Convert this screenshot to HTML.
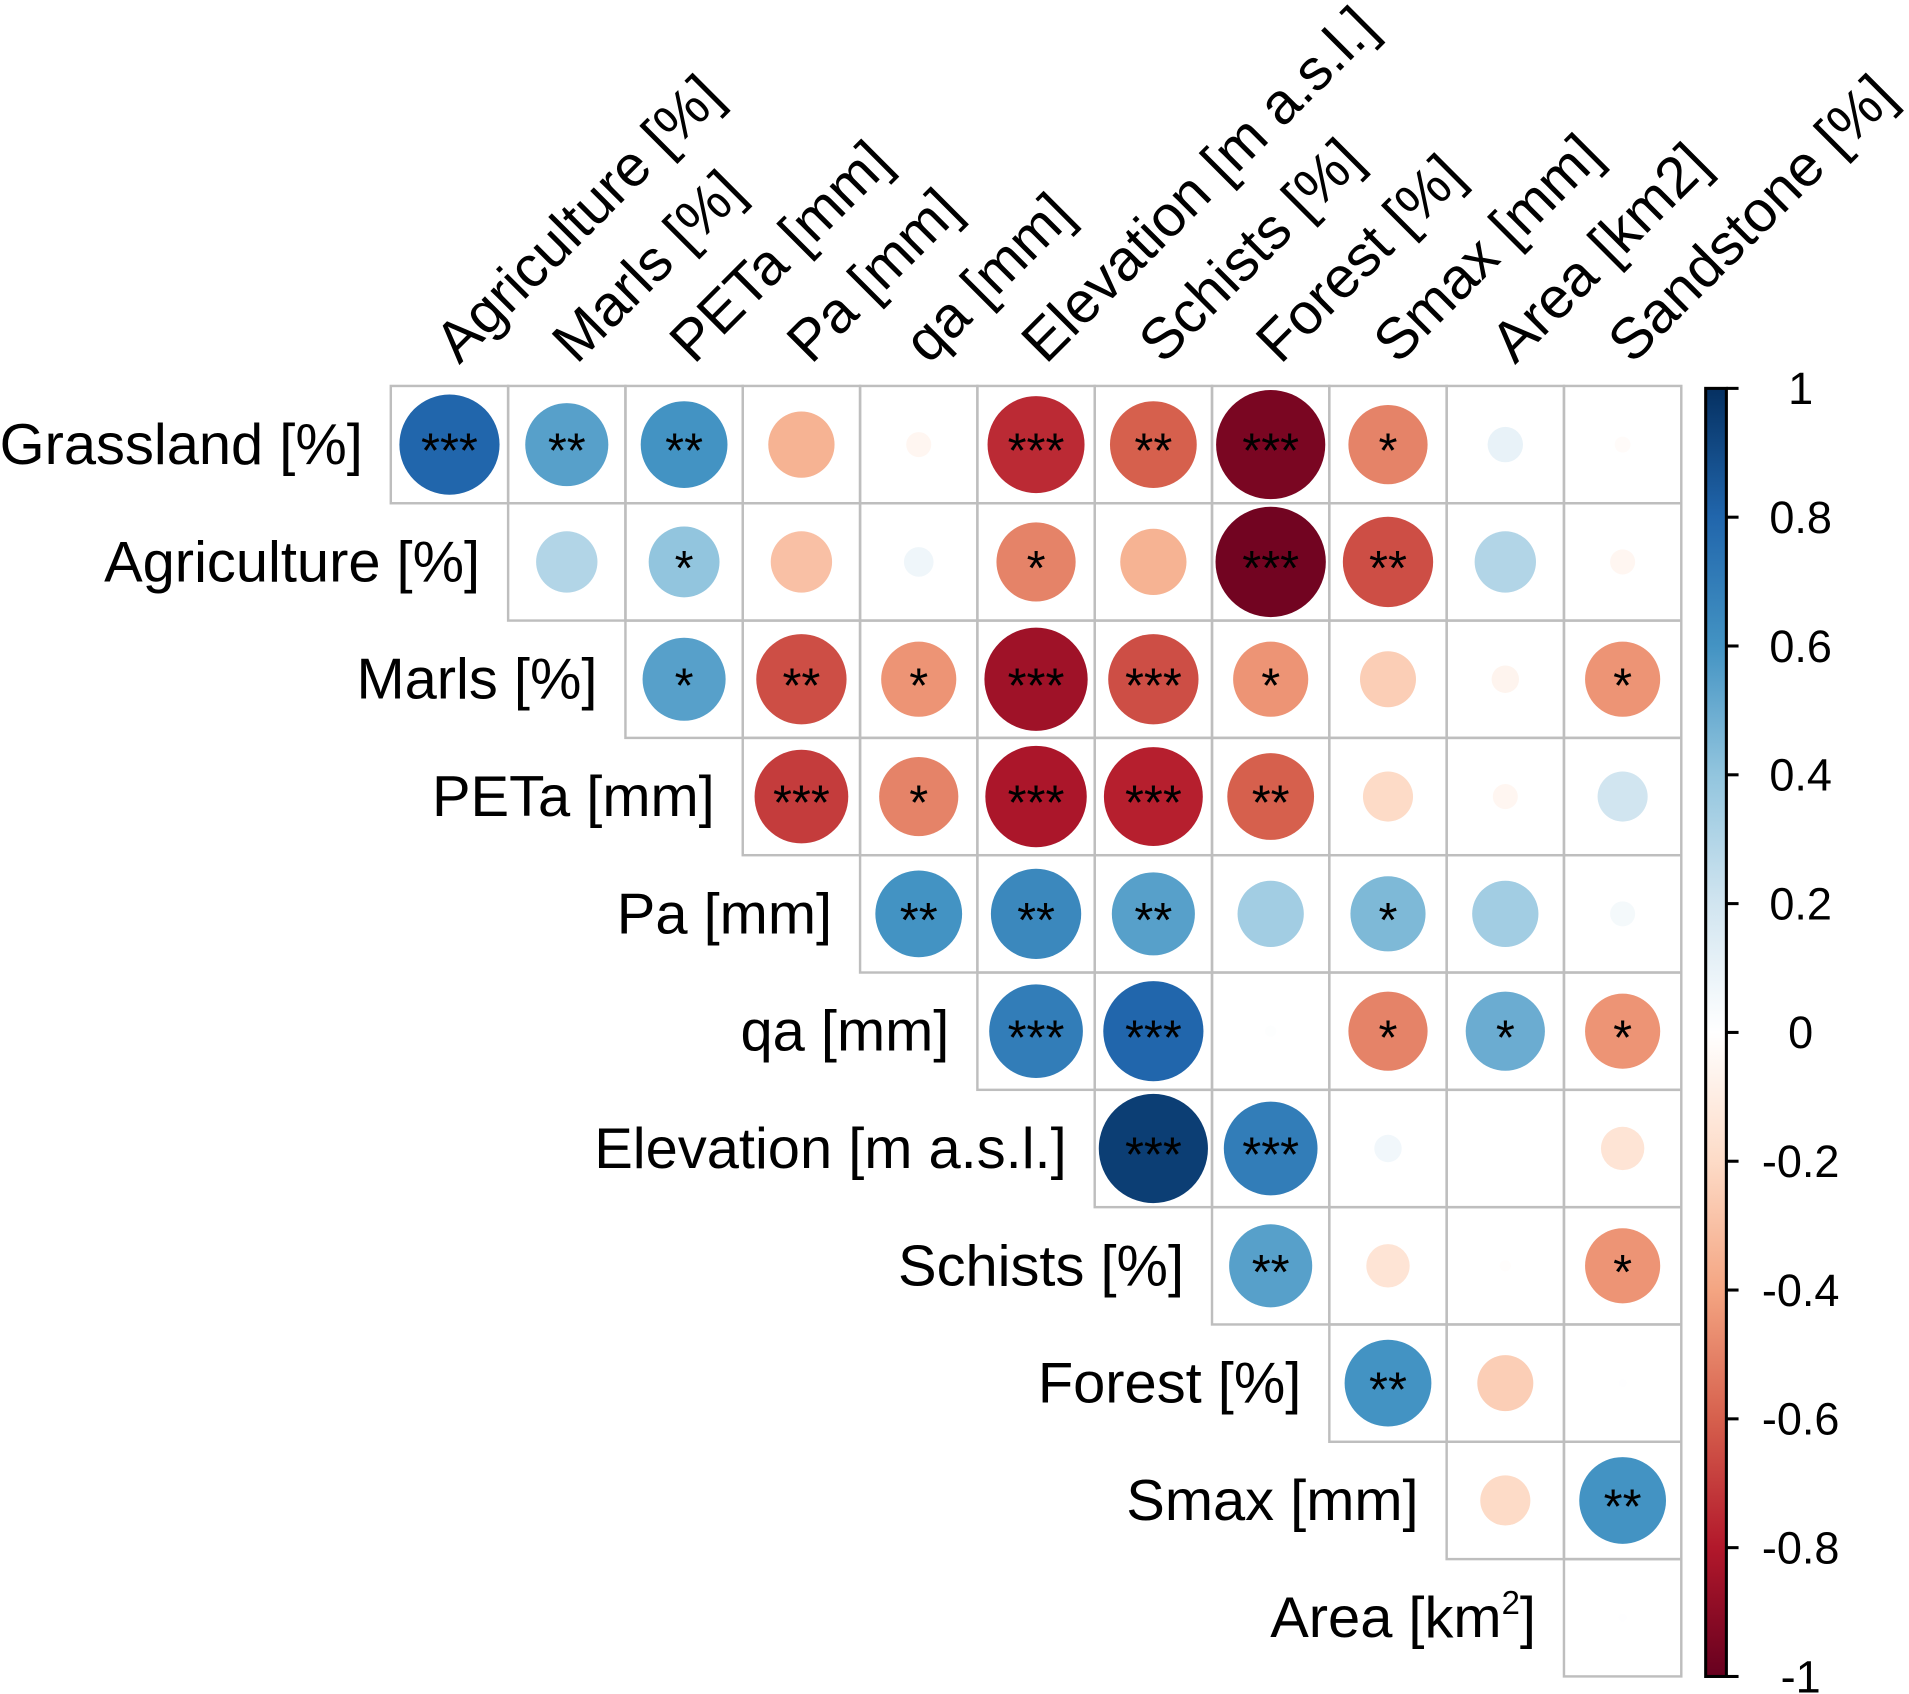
<!DOCTYPE html>
<html><head><meta charset="utf-8"><style>
html,body{margin:0;padding:0;background:#fff;}
svg{display:block;font-family:"Liberation Sans",Arial,sans-serif;}
</style></head><body>
<svg id="chart" width="1909" height="1694" viewBox="0 0 1568 1391.4" xmlns="http://www.w3.org/2000/svg">
<defs>
<linearGradient id="cbgrad" x1="0" y1="1" x2="0" y2="0">
<stop offset="0" stop-color="#67001F"/><stop offset="0.1" stop-color="#B2182B"/><stop offset="0.2" stop-color="#D6604D"/><stop offset="0.3" stop-color="#F4A582"/><stop offset="0.4" stop-color="#FDDBC7"/><stop offset="0.5" stop-color="#FFFFFF"/><stop offset="0.6" stop-color="#D1E5F0"/><stop offset="0.7" stop-color="#92C5DE"/><stop offset="0.8" stop-color="#4393C3"/><stop offset="0.9" stop-color="#2166AC"/><stop offset="1" stop-color="#053061"/>
</linearGradient>
</defs>
<g id="grid"></g>
<g id="marks"></g>
<g id="labels"></g>
<g id="colorbar"></g>
</svg>
<script>
const rowLabels = ["Grassland [%]","Agriculture [%]","Marls [%]","PETa [mm]","Pa [mm]","qa [mm]","Elevation [m a.s.l.]","Schists [%]","Forest [%]","Smax [mm]","Area [km2]"];
const colLabels = ["Agriculture [%]","Marls [%]","PETa [mm]","Pa [mm]","qa [mm]","Elevation [m a.s.l.]","Schists [%]","Forest [%]","Smax [mm]","Area [km2]","Sandstone [%]"];
const corrValues = [
 [0.8,0.55,0.6,-0.35,-0.05,-0.75,-0.6,-0.95,-0.5,0.1,-0.02],
 [0.3,0.4,-0.3,0.07,-0.5,-0.35,-0.97,-0.65,0.3,-0.05],
 [0.55,-0.65,-0.45,-0.85,-0.65,-0.45,-0.25,-0.06,-0.45],
 [-0.7,-0.5,-0.82,-0.78,-0.6,-0.2,-0.05,0.2],
 [0.6,0.65,0.55,0.35,0.45,0.35,0.05],
 [0.7,0.8,0.01,-0.5,0.5,-0.45],
 [0.95,0.7,0.06,0.0,-0.15],
 [0.55,-0.15,-0.01,-0.45],
 [0.6,-0.25,0.005],
 [-0.2,0.6],
 [0.005]
];
const sigStars = [
 ["***","**","**","","","***","**","***","*","",""],
 ["","*","","","*","","***","**","",""],
 ["*","**","*","***","***","*","","","*"],
 ["***","*","***","***","**","","",""],
 ["**","**","**","","*","",""],
 ["***","***","","*","*","*"],
 ["***","***","","",""],
 ["**","","","*"],
 ["**","",""],
 ["","**"],
 [""]
];
const cbTicks = [1,0.8,0.6,0.4,0.2,0,-0.2,-0.4,-0.6,-0.8,-1];

const NS="http://www.w3.org/2000/svg";
const X0=321,Y0=317,CS=96.36,MAXR=46;
const xCell=j=>X0+j*CS, yCell=i=>Y0+i*CS;
const CB_TOP=319,CB_BOT=1377;
const yCB=v=>CB_BOT-(v+1)/2*(CB_BOT-CB_TOP);
const pal=["#67001F","#B2182B","#D6604D","#F4A582","#FDDBC7","#FFFFFF","#D1E5F0","#92C5DE","#4393C3","#2166AC","#053061"];
function hex(h){return [1,3,5].map(k=>parseInt(h.substr(k,2),16));}
function color(v){let t=(v+1)/2*10;let k=Math.min(9,Math.floor(t));let f=t-k;let a=hex(pal[k]),b=hex(pal[k+1]);return "rgb("+a.map((x,n)=>Math.round(x+(b[n]-x)*f)).join(",")+")";}
function mk(tag,attrs,parent){const e=document.createElementNS(NS,tag);for(const k in attrs)e.setAttribute(k,attrs[k]);parent.appendChild(e);return e;}
const grid=document.getElementById('grid'),marks=document.getElementById('marks'),labels=document.getElementById('labels'),cb=document.getElementById('colorbar');

for(let i=0;i<rowLabels.length;i++){
 const vals=corrValues[i];
 for(let k=0;k<vals.length;k++){
  const j=i+k;
  const r=mk('rect',{x:xCell(j),y:yCell(i),width:CS,height:CS,fill:'none',stroke:'#bebebe','stroke-width':2},grid);
  
  
  const cx=xCell(j)+CS/2,cy=yCell(i)+CS/2;
  const c=mk('circle',{cx:cx,cy:cy,r:Math.sqrt(Math.abs(vals[k]))*MAXR,fill:color(vals[k])},marks);
  
  
  if(sigStars[i][k]){
   const t=mk('text',{x:cx,y:cy+19,'text-anchor':'middle','font-size':40,fill:'#000'},marks);
   t.textContent=sigStars[i][k];
   
   
  }
 }
 const lab=mk('text',{x:xCell(i)-23,y:yCell(i)+CS/2+16,'text-anchor':'end','font-size':47.5,fill:'#000'},labels);
 
 
 if(rowLabels[i]==="Area [km2]"){lab.textContent="Area [km";const s=mk('tspan',{'font-size':27,dy:-19},lab);s.textContent="2";const s2=mk('tspan',{dy:19},lab);s2.textContent="]";}
 else lab.textContent=rowLabels[i];
}
for(let j=0;j<colLabels.length;j++){
 const x=xCell(j)+CS/2+8,y=300;
 const t=mk('text',{x:x,y:y,'font-size':47.5,fill:'#000',transform:`rotate(-45 ${x} ${y})`},labels);
 t.textContent=colLabels[j];
 
 
}
const bar=mk('rect',{x:1401,y:CB_TOP,width:17,height:CB_BOT-CB_TOP,fill:'url(#cbgrad)',stroke:'#000','stroke-width':2.5},cb);


for(const v of cbTicks){
 const y=yCB(v);
 const l=mk('line',{x1:1418,x2:1428,y1:y,y2:y,stroke:'#000','stroke-width':2.5},cb);
 
 
 const t=mk('text',{x:1479,y:y+13,'text-anchor':'middle','font-size':37,fill:'#000'},cb);
 t.textContent=String(v);
 
 
}
</script>
</body></html>
